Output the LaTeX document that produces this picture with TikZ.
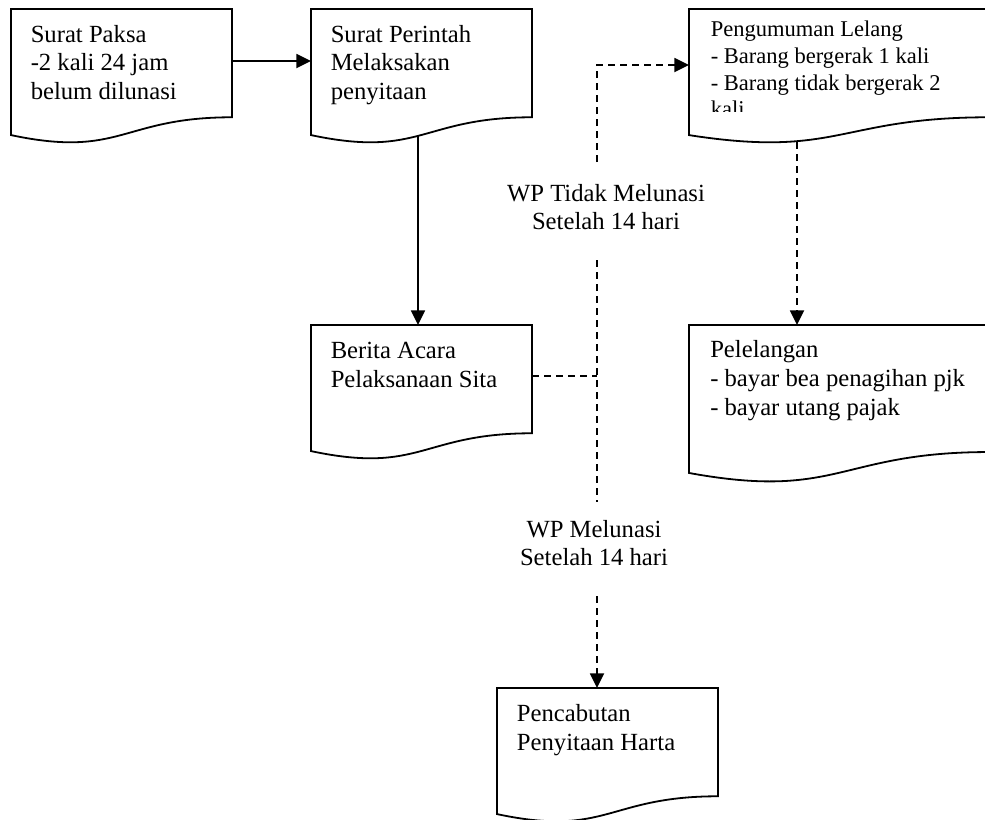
\documentclass[tikz,border=0pt]{standalone}
\usepackage{fontspec}
\setmainfont{Liberation Serif}
\usetikzlibrary{calc,arrows.meta}

\tikzset{
  px/.style={x=0.75pt,y=-0.75pt},
  docline/.style={line width=1.35pt, line join=miter},
  docbox/.style={draw=none, rectangle, inner sep=0pt, outer sep=0pt, anchor=north west,
                 minimum width=165.75pt, minimum height=101.25pt},
  widebox/.style={docbox, minimum width=225pt},
  doctext/.style={anchor=north west, inner sep=0pt, align=left,
                  font=\fontsize{18.5pt}{21.5pt}\selectfont},
  smalltext/.style={doctext, font=\fontsize{16.9pt}{19.9pt}\selectfont},
  labeltext/.style={anchor=north, inner sep=0pt, align=center,
                    font=\fontsize{18.5pt}{21.5pt}\selectfont},
  flow/.style={line width=1.35pt, -{Triangle[length=11pt,width=10.5pt]}},
  dashline/.style={line width=1.35pt, dash pattern=on 5pt off 4pt},
  dashflow/.style={dashline, -{Triangle[length=11pt,width=10.5pt]}},
}

% strut that fixes the height of a first text line
\newcommand\firstline{\rule{0pt}{14pt}}

% document outline: flat top, wavy bottom
\newcommand\docoutline[1]{%
  \draw[docline] (#1.north west) -- (#1.north east)
    -- ($(#1.north east)!0.802!(#1.south east)$)
    .. controls ($(#1.north)!0.802!(#1.south)$) and ($(#1.north)!1.1075!(#1.south)$)
    .. ($(#1.north west)!0.934!(#1.south west)$) -- cycle;}

\begin{document}
\begin{tikzpicture}[px]
  \useasboundingbox (0,0) rectangle (985,819);

  % document boxes
  \node[docbox] (b1) at (11,9) {};
  \node[docbox] (b2) at (311,9) {};
  \node[widebox] (b3) at (689,9) {};
  \node[docbox] (b4) at (311,325) {};
  \node[widebox, minimum height=118.8pt] (b6) at (689,325) {};
  \node[docbox] (b5) at (497,688) {};
  \docoutline{b1}
  \docoutline{b2}
  \docoutline{b3}
  \docoutline{b4}
  \docoutline{b6}
  \docoutline{b5}

  % box texts
  \node[doctext] (b1-text) at (30.5,23.3) {\firstline Surat Paksa\\-2 kali 24 jam\\belum dilunasi};
  \node[doctext] (b2-text) at (330.5,23.3) {\firstline Surat Perintah\\Melaksakan\\penyitaan};
  \begin{scope}
    \clip (689,0) rectangle (989,111);
    \node[smalltext] (b3-text) at (710.5,18) {\firstline Pengumuman Lelang\\- Barang bergerak 1 kali\\- Barang tidak bergerak 2\\kali};
  \end{scope}
  \node[doctext] (b4-text) at (330.5,339.6) {\firstline Berita Acara\\Pelaksanaan Sita};
  \node[doctext] (b6-text) at (710,338.8) {\firstline Pelelangan\\- bayar bea penagihan pjk\\- bayar utang pajak};
  \node[doctext] (b5-text) at (516.7,703) {\firstline Pencabutan\\Penyitaan Harta};

  % condition labels
  \node[labeltext] (lt) at (606,182.3) {\firstline WP Tidak Melunasi\\Setelah 14 hari};
  \node[labeltext] (lm) at (594,518.3) {\firstline WP Melunasi\\Setelah 14 hari};

  % connector points on the dashed branch line
  \coordinate (j) at (597,376);
  \coordinate (up-end) at (597,162);
  \coordinate (mid-top) at (597,260);
  \coordinate (mid-bot) at (597,502);
  \coordinate (low-top) at (597,596);

  % solid flow
  \draw[flow] ($(b1.north east)+(0,52)$) -- ($(b2.north west)+(0,52)$);
  \draw[flow] ($(b2.north west)+(107,127)$) -- ($(b4.north west)+(107,0)$);

  % dashed branches
  \draw[dashline] ($(b4.north east)+(0,51)$) -- (j);
  \draw[dashline] (mid-top) -- (mid-bot);
  \draw[dashflow] (up-end) |- ($(b3.north west)+(0,56)$);
  \draw[dashflow] (low-top) -- ($(b5.north west)+(100,0)$);
  \draw[dashflow] ($(b3.north west)+(108,133)$) -- ($(b6.north west)+(108,0)$);
\end{tikzpicture}
\end{document}
